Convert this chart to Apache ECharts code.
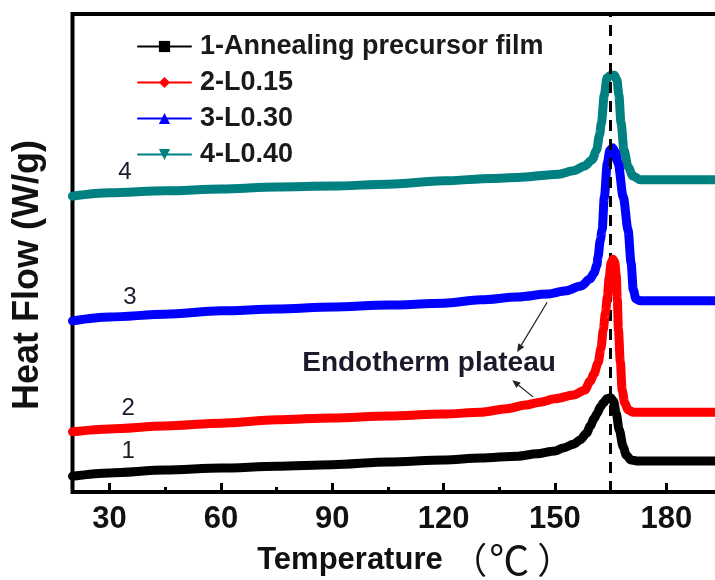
<!DOCTYPE html>
<html>
<head>
<meta charset="utf-8">
<title>DSC heat flow curves</title>
<script src="https://cdn.jsdelivr.net/npm/echarts@6/dist/echarts.min.js"></script>
<style>
  html, body { margin: 0; padding: 0; background: #ffffff; }
  #chart { width: 715px; height: 580px; }
</style>
</head>
<body>
<div id="chart"></div>
<script>
// ---- Data: DSC heating scans, heat flow (arbitrary offset units) vs temperature (°C) ----
const seriesNames = ['1-Annealing precursor film', '2-L0.15', '3-L0.30', '4-L0.40'];
const curveTags = ['1', '2', '3', '4'];

const curve1 = [
  [20, 3.3], [30, 4.0], [45, 4.6], [60, 5.0], [75, 5.4], [90, 5.7], [105, 6.3], [120, 6.7],
  [130, 7.1], [140, 7.5], [145, 8.0], [150, 8.6], [152.2, 9.2], [155, 10.0], [156.8, 10.9],
  [158.5, 12.3], [159.5, 13.8], [160.5, 15.3], [161.4, 16.5], [162.2, 17.8], [163, 18.6],
  [164, 19.5], [165, 19.7], [165.8, 19.0], [166.5, 16.5], [167.3, 13.0], [168.4, 9.4],
  [169.2, 7.7], [170.5, 6.7], [172, 6.5], [180, 6.5], [195, 6.5]
];
const curve2 = [
  [20, 12.6], [30, 13.2], [45, 13.8], [60, 14.4], [75, 15.1], [90, 15.5], [105, 15.9], [120, 16.3],
  [130, 16.7], [137, 17.4], [142, 18.2], [146, 18.8], [150, 19.5], [155, 20.3], [158, 21.3],
  [159.5, 23.2], [160.5, 24.7], [161.6, 27.0], [162.4, 30.1], [163, 33.9], [163.6, 37.5],
  [164.1, 40.8], [164.6, 44.8], [165.1, 47.9], [165.6, 48.7], [166.1, 48.1], [166.5, 45.4],
  [166.8, 40.2], [167.1, 33.9], [167.6, 27.2], [168.1, 21.3], [168.8, 18.6], [169.7, 17.2],
  [171, 16.7], [180, 16.7], [195, 16.7]
];
const curve3 = [
  [20, 35.8], [30, 36.6], [45, 37.2], [60, 37.9], [75, 38.3], [90, 38.7], [105, 39.1], [120, 39.5],
  [130, 40.2], [140, 40.8], [148, 41.4], [153, 42.1], [157, 43.1], [159.5, 44.6], [160.5, 45.8],
  [161.3, 47.5], [161.6, 49.2], [162.2, 52.7], [162.7, 54.8], [163.3, 61.7], [164.1, 68.8],
  [164.8, 71.5], [165.5, 72.0], [166.3, 71.1], [167, 68.8], [168.4, 61.7], [169.7, 54.8],
  [170.5, 47.9], [171.1, 42.3], [171.8, 40.4], [173, 40.0], [180, 40.0], [195, 40.0]
];
const curve4 = [
  [20, 61.9], [30, 62.6], [45, 63.0], [60, 63.4], [75, 63.8], [90, 64.0], [105, 64.4], [120, 65.1],
  [133, 65.6], [140, 65.8], [151, 66.5], [155, 67.2], [158, 68.2], [160, 69.5], [161.2, 71.5],
  [162, 74.7], [162.5, 77.2], [163.3, 83.1], [164, 86.6], [165, 87.2], [166, 87.2], [166.7, 86.2],
  [167.2, 83.1], [167.8, 77.2], [168.6, 71.5], [169.7, 68.0], [171, 66.1], [173, 65.3],
  [180, 65.3], [195, 65.3]
];

const xTickLabels = [30, 60, 90, 120, 150, 180];
const xMinorTicks = [45, 75, 105, 135, 165];
const peakTemperature = 165;   // melting peak marker

// ---- Styling ----
const FONT = 'Arial, "Liberation Sans", "Noto Sans CJK SC", sans-serif';
const CJK_FONT = '"Noto Sans CJK SC", "Noto Sans CJK JP", sans-serif';
const colors = ['#000000', '#ff0000', '#0000ff', '#008080'];
const symbols = ['rect', 'diamond', 'triangle', 'path://M0,0L10,0L5,9Z'];

// anchor points (data coordinates) for the curve numbers and the annotation
const tagAnchors = [[35, 8.4], [35, 17.4], [35.5, 40.8], [34.1, 66.9]];
const noteAnchor = [81.9, 27.0];
const arrowPaths = [
  { from: [147.9, 39.7], to: [139.8, 29.3] },
  { from: [144.1, 19.9], to: [138.5, 23.4] }
];

const chart = echarts.init(document.getElementById('chart'), null, { renderer: 'canvas' });
const curves = [curve1, curve2, curve3, curve4];

const series = curves.map((pts, i) => ({
  name: seriesNames[i],
  type: 'line',
  data: pts,
  xAxisIndex: 0,
  yAxisIndex: 0,
  symbol: symbols[i],
  showSymbol: false,
  smooth: 0.3,
  smoothMonotone: 'x',
  z: 6 - i,
  lineStyle: { color: colors[i], width: 9, join: 'round', cap: 'round' },
  itemStyle: { color: colors[i] },
  emphasis: { disabled: true },
  animation: false
}));

// dashed vertical line at the melting peak, drawn above the curves
series.push({
  name: 'peak',
  type: 'line',
  data: [],
  xAxisIndex: 0,
  yAxisIndex: 0,
  z: 10,
  animation: false,
  markLine: {
    silent: true,
    symbol: 'none',
    label: { show: false },
    animation: false,
    lineStyle: { color: '#000', width: 3, type: [11, 8] },
    data: [{ xAxis: peakTemperature }]
  }
});

const gridRect = { left: 72.5, right: -7, top: 14, bottom: 88, outerBoundsMode: 'none', containLabel: false };

chart.setOption({
  animation: false,
  backgroundColor: '#ffffff',
  grid: [
    Object.assign({ show: true, borderColor: '#000', borderWidth: 4, backgroundColor: 'transparent' }, gridRect),
    // twin grid carrying only the minor ticks
    Object.assign({ show: false }, gridRect)
  ],
  legend: {
    data: seriesNames,
    orient: 'vertical',
    left: 137,
    top: 33,
    padding: 0,
    itemWidth: 53,
    itemHeight: 14,
    itemGap: 9,
    lineStyle: { width: 2 },
    textStyle: { fontFamily: FONT, fontSize: 27, fontWeight: 'bold', color: '#1a1a1a', padding: [0, 0, 0, 4] },
    selectedMode: false
  },
  xAxis: [
    {
      gridIndex: 0,
      type: 'value', min: 20, max: 195,
      position: 'bottom',
      name: 'Temperature {u|（}{c|℃}{u|）}',
      nameLocation: 'middle',
      nameGap: 48,
      nameTextStyle: {
        fontFamily: FONT, fontSize: 31, fontWeight: 'bold', color: '#111', padding: [0, 0, 0, 36],
        rich: {
          u: { fontFamily: CJK_FONT, fontSize: 36, fontWeight: 'normal', color: '#111' },
          c: { fontFamily: CJK_FONT, fontSize: 40, fontWeight: 'normal', color: '#111', padding: [0, 8, 0, 2] }
        }
      },
      axisLine: { show: false },
      splitLine: { show: false },
      axisTick: { show: true, inside: true, length: 9, lineStyle: { color: '#000', width: 3 }, customValues: xTickLabels },
      axisLabel: { show: true, customValues: xTickLabels, margin: 12, fontFamily: FONT, fontSize: 31, fontWeight: 'bold', color: '#111' }
    },
    {
      gridIndex: 1,
      type: 'value', min: 20, max: 195,
      position: 'bottom',
      axisLine: { show: false },
      splitLine: { show: false },
      axisLabel: { show: false },
      axisTick: { show: true, inside: true, length: 5, lineStyle: { color: '#000', width: 3 }, customValues: xMinorTicks }
    }
  ],
  yAxis: [
    {
      gridIndex: 0,
      type: 'value', min: 0, max: 100,
      name: 'Heat Flow (W/g)',
      nameLocation: 'middle',
      nameGap: 26,
      nameTextStyle: { fontFamily: FONT, fontSize: 36, fontWeight: 'bold', color: '#111', padding: [0, 44, 0, 0] },
      axisLine: { show: false },
      axisTick: { show: false },
      axisLabel: { show: false },
      splitLine: { show: false }
    },
    {
      gridIndex: 1,
      type: 'value', min: 0, max: 100,
      axisLine: { show: false },
      axisTick: { show: false },
      axisLabel: { show: false },
      splitLine: { show: false }
    }
  ],
  series: series
});

// ---- Annotations placed through the axis scales ----
const toPx = (p) => chart.convertToPixel({ seriesIndex: 0 }, p);
const graphics = [];

curveTags.forEach((tag, i) => {
  const [x, y] = toPx(tagAnchors[i]);
  graphics.push({
    type: 'text', x: x, y: y, z: 20,
    style: { text: tag, fontFamily: FONT, fontSize: 24, fill: '#1a1a2a', align: 'center', verticalAlign: 'middle' }
  });
});

const [nx, ny] = toPx(noteAnchor);
graphics.push({
  type: 'text', x: nx, y: ny, z: 20,
  style: { text: 'Endotherm plateau', fontFamily: FONT, fontSize: 28, fontWeight: 'bold', fill: '#1a1a2a', align: 'left', verticalAlign: 'middle' }
});

arrowPaths.forEach((a) => {
  const p0 = toPx(a.from);
  const p1 = toPx(a.to);
  const dx = p1[0] - p0[0], dy = p1[1] - p0[1];
  const len = Math.hypot(dx, dy);
  const ux = dx / len, uy = dy / len;
  const headLen = 8, headHalf = 3.5;
  const bx = p1[0] - ux * headLen, by = p1[1] - uy * headLen;
  graphics.push({
    type: 'line', z: 20,
    shape: { x1: p0[0], y1: p0[1], x2: bx, y2: by },
    style: { stroke: '#222', lineWidth: 1.2 }
  });
  graphics.push({
    type: 'polygon', z: 20,
    shape: { points: [p1, [bx - uy * headHalf, by + ux * headHalf], [bx + uy * headHalf, by - ux * headHalf]] },
    style: { fill: '#222' }
  });
});

chart.setOption({ graphic: graphics });
</script>
</body>
</html>
